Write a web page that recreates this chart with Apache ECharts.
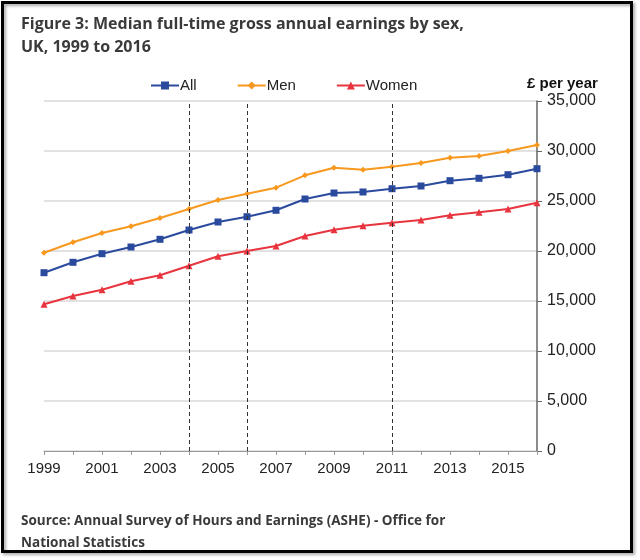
<!DOCTYPE html>
<html>
<head>
<meta charset="utf-8">
<script src="https://cdn.jsdelivr.net/npm/echarts@6/dist/echarts.min.js"></script>
<style>
  html, body { margin: 0; padding: 0; background: #fff; }
  #chart { width: 640px; height: 560px; }
</style>
</head>
<body>
<div id="chart"></div>
<script>
const years = ['1999', '2000', '2001', '2002', '2003', '2004', '2005', '2006', '2007',
  '2008', '2009', '2010', '2011', '2012', '2013', '2014', '2015', '2016'];
const allValues = [17830, 18870, 19730, 20400, 21170, 22100, 22900, 23430, 24070,
  25200, 25800, 25900, 26230, 26500, 27030, 27270, 27630, 28230];
const menValues = [19830, 20870, 21800, 22470, 23300, 24200, 25100, 25730, 26330,
  27570, 28330, 28130, 28430, 28800, 29330, 29500, 30000, 30600];
const womenValues = [14670, 15500, 16130, 16970, 17570, 18530, 19470, 20000, 20500,
  21500, 22130, 22530, 22830, 23100, 23570, 23870, 24200, 24830];
const markerYears = ['2004', '2006', '2011'];

const axisFont = 'Liberation Sans, Arial, sans-serif';
const textFont = 'Open Sans, sans-serif';

const makeSeries = (name, data, color, symbol, size) => ({
  name,
  type: 'line',
  data,
  symbol,
  symbolSize: size,
  showSymbol: true,
  lineStyle: { color, width: 2 },
  itemStyle: { color },
  z: 3,
});

const series = [
  makeSeries('All', allValues, '#2a4a9e', 'rect', 7),
  makeSeries('Men', menValues, '#f7981f', 'diamond', 6),
  makeSeries('Women', womenValues, '#e8343f', 'triangle', 7),
];

// dashed reference lines
series[0].markLine = {
  silent: true,
  symbol: 'none',
  label: { show: false },
  lineStyle: { color: '#333', type: [4, 3], width: 1 },
  data: markerYears.map((y) => ({ xAxis: y })),
};

const chart = echarts.init(document.getElementById('chart'));
chart.setOption({
  backgroundColor: '#fff',
  animation: false,
  title: [
    {
      text: 'Figure 3: Median full-time gross annual earnings by sex,\nUK, 1999 to 2016',
      left: 16,
      top: 8,
      textStyle: { fontFamily: textFont, fontSize: 16, fontWeight: 'bold', color: '#3a3a3a', lineHeight: 23 },
    },
    {
      text: '£ per year',
      left: 522,
      top: 71,
      textStyle: { fontFamily: axisFont, fontSize: 15, fontWeight: 'bold', color: '#111' },
    },
    {
      text: 'Source: Annual Survey of Hours and Earnings (ASHE) - Office for\nNational Statistics',
      left: 16,
      top: 505,
      textStyle: { fontFamily: textFont, fontSize: 13.5, fontWeight: 'bold', color: '#3a3a3a', lineHeight: 22 },
    },
  ],
  legend: {
    left: 145,
    top: 73,
    itemWidth: 28,
    itemHeight: 10,
    itemGap: 40,
    textStyle: { fontFamily: axisFont, fontSize: 15, color: '#222', padding: [0, 0, 0, -4] },
    data: ['All', 'Men', 'Women'],
  },
  grid: { left: 44, right: 103, top: 101, bottom: 109 },
  xAxis: {
    type: 'category',
    data: years,
    boundaryGap: false,
    axisLine: { lineStyle: { color: '#999', width: 1 } },
    axisTick: { show: true, interval: 0, length: 4, lineStyle: { color: '#999' } },
    axisLabel: { interval: 1, fontFamily: axisFont, fontSize: 15, color: '#222', margin: 10 },
    splitLine: { show: false },
  },
  yAxis: {
    type: 'value',
    position: 'right',
    min: 0,
    max: 35000,
    interval: 5000,
    axisLine: { show: true, lineStyle: { color: '#666', width: 1.5 } },
    axisTick: { show: true, length: 5, lineStyle: { color: '#666' } },
    axisLabel: {
      fontFamily: axisFont,
      fontSize: 16,
      color: '#222',
      margin: 10,
      formatter: (v) => v.toLocaleString('en-GB'),
    },
    splitLine: { lineStyle: { color: '#d9d9d9', width: 1.5 } },
  },
  graphic: [
    {
      type: 'rect',
      shape: { x: 2.5, y: 2.5, width: 629, height: 549 },
      style: {
        fill: 'none',
        stroke: '#000',
        lineWidth: 3,
        shadowBlur: 3,
        shadowOffsetX: 2,
        shadowOffsetY: 2,
        shadowColor: 'rgba(0,0,0,0.35)',
      },
      z: 10,
    },
  ],
  series,
});

window.addEventListener('resize', () => chart.resize());
</script>
</body>
</html>
